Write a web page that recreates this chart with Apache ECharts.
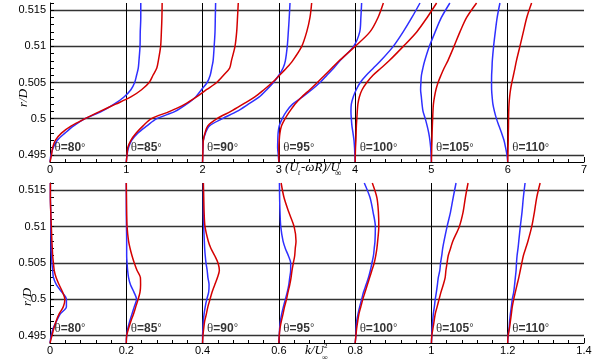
<!DOCTYPE html>
<html>
<head>
<meta charset="utf-8">
<script src="https://cdn.jsdelivr.net/npm/echarts@6/dist/echarts.min.js"></script>
<style>
  html, body { margin: 0; padding: 0; background: #fff; }
  #chart { width: 603px; height: 362px; }
</style>
</head>
<body>
<div id="chart"></div>
<script>
// r/D stations, shared by every profile
const rD = [0.494, 0.495, 0.496, 0.497, 0.498, 0.499, 0.5, 0.501, 0.502, 0.503, 0.504, 0.505, 0.506, 0.507, 0.508, 0.51, 0.512, 0.514, 0.516]
const angles = [80, 85, 90, 95, 100, 105, 110]

// (Ut - wR)/Uinf, each profile shifted by 1 per station
const u80Blue = [0, 0.013, 0.044, 0.096, 0.197, 0.31, 0.46, 0.677, 0.84, 0.97, 1.06, 1.11, 1.135, 1.157, 1.166, 1.18, 1.183, 1.19, 1.19]
const u80Red = [0, 0.02, 0.035, 0.07, 0.15, 0.28, 0.46, 0.655, 0.86, 1.06, 1.2, 1.3, 1.35, 1.4, 1.42, 1.45, 1.46, 1.467, 1.47]
const u85Blue = [0, 0.01, 0.03, 0.07, 0.15, 0.27, 0.4, 0.64, 0.79, 0.91, 0.985, 1.06, 1.1, 1.12, 1.138, 1.152, 1.163, 1.167, 1.171]
const u85Red = [0, 0.01, 0.02, 0.06, 0.13, 0.22, 0.33, 0.57, 0.77, 0.92, 1.05, 1.185, 1.275, 1.355, 1.378, 1.425, 1.447, 1.458, 1.468]
const u90Blue = [0, 0.002, 0.005, 0.01, 0.038, 0.09, 0.26, 0.45, 0.6, 0.743, 0.841, 0.929, 1.0, 1.055, 1.085, 1.11, 1.124, 1.136, 1.146]
const u90Red = [0, 0.003, 0.006, 0.01, 0.032, 0.068, 0.19, 0.37, 0.53, 0.685, 0.804, 0.914, 1.009, 1.1, 1.18, 1.3, 1.365, 1.408, 1.43]
const u95Blue = [0, -0.008, -0.016, -0.014, -0.01, 0.005, 0.044, 0.1, 0.18, 0.31, 0.43, 0.54, 0.63, 0.72, 0.8, 0.98, 1.06, 1.075, 1.085]
const u95Red = [0, 0, 0, 0.005, 0.014, 0.035, 0.082, 0.142, 0.21, 0.3, 0.405, 0.505, 0.6, 0.695, 0.79, 1.0, 1.194, 1.3, 1.37]
const u100Blue = [0, -0.004, -0.008, -0.015, -0.028, -0.042, -0.05, -0.055, -0.05, -0.025, 0.014, 0.067, 0.146, 0.24, 0.334, 0.5, 0.629, 0.744, 0.85]
const u100Red = [0, 0.002, 0.005, 0.01, 0.013, 0.016, 0.022, 0.028, 0.036, 0.055, 0.091, 0.153, 0.234, 0.34, 0.445, 0.631, 0.807, 0.944, 1.068]
const u105Blue = [0, -0.005, -0.01, -0.02, -0.035, -0.056, -0.081, -0.11, -0.123, -0.132, -0.142, -0.138, -0.131, -0.112, -0.088, -0.027, 0.049, 0.131, 0.242]
const u105Red = [0, 0.002, 0.004, 0.007, 0.009, 0.012, 0.016, 0.02, 0.026, 0.04, 0.059, 0.087, 0.125, 0.167, 0.215, 0.296, 0.374, 0.462, 0.592]
const u110Blue = [0, -0.01, -0.028, -0.049, -0.08, -0.115, -0.148, -0.174, -0.194, -0.204, -0.211, -0.212, -0.211, -0.206, -0.202, -0.185, -0.163, -0.138, -0.102]
const u110Red = [0, 0.003, 0.005, 0.007, 0.008, 0.01, 0.011, 0.013, 0.017, 0.025, 0.037, 0.054, 0.075, 0.095, 0.114, 0.16, 0.205, 0.25, 0.313]

// k/Uinf^2, each profile shifted by 0.2 per station
const k80Blue = [0, 0.003, 0.008, 0.017, 0.027, 0.043, 0.043, 0.031, 0.017, 0.009, 0.007, 0.005, 0.004, 0.003, 0.003, 0.002, 0.002, 0.001, 0.001]
const k80Red = [0, 0.005, 0.01, 0.016, 0.024, 0.035, 0.039, 0.033, 0.024, 0.016, 0.011, 0.009, 0.007, 0.006, 0.005, 0.0035, 0.002, 0.001, 0.001]
const k85Blue = [0, 0.001, 0.004, 0.009, 0.015, 0.021, 0.027, 0.02, 0.011, 0.006, 0.0035, 0.002, 0.001, 0.001, 0.001, 0.0005, 0, 0, 0]
const k85Red = [0, 0.001, 0.006, 0.012, 0.019, 0.025, 0.031, 0.036, 0.0375, 0.037, 0.028, 0.021, 0.015, 0.01, 0.006, 0.002, 0.001, 0.0005, 0]
const k90Blue = [0, 0, 0.001, 0.002, 0.004, 0.007, 0.011, 0.016, 0.017, 0.014, 0.012, 0.009, 0.007, 0.0055, 0.0046, 0.003, 0.002, 0.002, 0.002]
const k90Red = [0, 0.001, 0.003, 0.0055, 0.01, 0.014, 0.0195, 0.025, 0.032, 0.039, 0.044, 0.0405, 0.032, 0.022, 0.015, 0.0064, 0.004, 0.003, 0.002]
const k95Blue = [0, 0.001, 0.002, 0.004, 0.0075, 0.012, 0.017, 0.022, 0.026, 0.0285, 0.031, 0.031, 0.025, 0.017, 0.011, 0.005, 0.003, 0.002, 0.0015]
const k95Red = [0, 0.001, 0.003, 0.0065, 0.011, 0.015, 0.02, 0.024, 0.0285, 0.032, 0.0345, 0.038, 0.0415, 0.043, 0.045, 0.04, 0.026, 0.0135, 0.006]
const k100Blue = [0, 0.002, 0.0025, 0.004, 0.0076, 0.012, 0.017, 0.022, 0.0286, 0.035, 0.04, 0.044, 0.048, 0.05, 0.052, 0.053, 0.047, 0.039, 0.024]
const k100Red = [0, 0.002, 0.004, 0.0068, 0.01, 0.015, 0.02, 0.026, 0.032, 0.038, 0.044, 0.05, 0.054, 0.057, 0.059, 0.062, 0.061, 0.057, 0.045]
const k105Blue = [0, 0.001, 0.0016, 0.0033, 0.005, 0.0077, 0.01, 0.013, 0.0156, 0.018, 0.022, 0.024, 0.027, 0.0295, 0.033, 0.041, 0.05, 0.057, 0.0645]
const k105Red = [0, 0.001, 0.004, 0.007, 0.01, 0.015, 0.02, 0.025, 0.031, 0.036, 0.038, 0.041, 0.044, 0.05, 0.056, 0.073, 0.083, 0.089, 0.096]
const k110Blue = [0, 0.001, 0.0035, 0.005, 0.007, 0.0096, 0.012, 0.0157, 0.018, 0.02, 0.022, 0.023, 0.0245, 0.027, 0.029, 0.033, 0.0375, 0.041, 0.0455]
const k110Red = [0, 0.001, 0.0045, 0.007, 0.0096, 0.012, 0.0157, 0.02, 0.0245, 0.029, 0.033, 0.037, 0.041, 0.047, 0.053, 0.063, 0.07, 0.076, 0.085]

const uBlue = [u80Blue, u85Blue, u90Blue, u95Blue, u100Blue, u105Blue, u110Blue]
const uRed = [u80Red, u85Red, u90Red, u95Red, u100Red, u105Red, u110Red]
const kBlue = [k80Blue, k85Blue, k90Blue, k95Blue, k100Blue, k105Blue, k110Blue]
const kRed = [k80Red, k85Red, k90Red, k95Red, k100Red, k105Red, k110Red]

const BLUE = '#2f2fff'
const RED = '#d40000'
const SANS = '"Liberation Sans", Arial, sans-serif'
const SERIF = '"Liberation Serif", "Times New Roman", serif'

function rLabel (v) {
  const n = Math.round(v * 1000)
  return n % 5 === 0 ? String(n / 1000) : ''
}

// station lines come from the x split lines, without the two ends
function xAxisFor (gridIndex, max, interval) {
  return {
    type: 'value',
    gridIndex: gridIndex,
    min: 0,
    max: max,
    interval: interval,
    axisLine: { show: true, onZero: false, lineStyle: { color: '#000', width: 1 } },
    axisTick: { show: true, inside: true, length: 5, lineStyle: { color: '#000' } },
    minorTick: { show: true, splitNumber: 5, length: 3, lineStyle: { color: '#000' } },
    axisLabel: { color: '#000', fontSize: 11, fontFamily: SANS, margin: 2 },
    splitLine: { show: true, showMinLine: false, showMaxLine: false, lineStyle: { color: '#000', width: 1, type: 'solid' } }
  }
}

// ticks every 0.001, labels every 0.005
function yAxisFor (gridIndex) {
  return {
    type: 'value',
    gridIndex: gridIndex,
    min: 0.494,
    max: 0.516,
    interval: 0.001,
    axisLine: { show: true, onZero: false, lineStyle: { color: '#000', width: 1 } },
    axisTick: { show: true, inside: true, length: 4, lineStyle: { color: '#000' } },
    axisLabel: { color: '#000', fontSize: 11, fontFamily: SANS, margin: 4, formatter: rLabel },
    splitLine: { show: false }
  }
}

// second y axis on the same grid, only for the horizontal grid lines (nice 0.005 step)
function yGridLines (gridIndex) {
  return {
    type: 'value',
    gridIndex: gridIndex,
    min: 0.494,
    max: 0.516,
    splitNumber: 5,
    position: 'left',
    axisLine: { show: false },
    axisTick: { show: false },
    axisLabel: { show: false },
    splitLine: { show: true, showMinLine: false, showMaxLine: false, lineStyle: { color: '#333', width: 1.3, type: 'solid' } }
  }
}

function profileSeries (idx, shift, vals, color, name) {
  return vals.map((v, i) => ({
    type: 'line',
    name: name + angles[i],
    xAxisIndex: idx,
    yAxisIndex: idx,
    showSymbol: false,
    smooth: 0.3,
    z: 3,
    lineStyle: { color: color, width: 1.5 },
    data: rD.map((r, j) => [shift * i + v[j], r])
  }))
}

function angleLabels (idx, shift) {
  return {
    type: 'scatter',
    xAxisIndex: idx,
    yAxisIndex: idx,
    symbolSize: 1,
    z: 4,
    itemStyle: { color: 'rgba(0,0,0,0)' },
    data: angles.map((a, i) => ({ name: String(a), value: [shift * i, 0.496] })),
    label: {
      show: true,
      position: 'right',
      distance: 4,
      formatter: p => '{t|θ}{b|=' + p.name + '}{d|°}',
      rich: {
        t: { fontFamily: SERIF, fontSize: 13, color: '#000' },
        b: { fontFamily: SANS, fontSize: 12, fontWeight: 'bold', color: '#000' },
        d: { fontFamily: SANS, fontSize: 11, color: '#000' }
      }
    }
  }
}

const chart = echarts.init(document.getElementById('chart'), null, { renderer: 'canvas' })

const option = {
  animation: false,
  backgroundColor: '#fff',
  grid: [
    { left: 50, right: 19, top: 3, height: 159, outerBoundsMode: 'none' },
    { left: 50, right: 19, top: 183, height: 160, outerBoundsMode: 'none' }
  ],
  xAxis: [xAxisFor(0, 7, 1), xAxisFor(1, 1.4, 0.2)],
  yAxis: [yAxisFor(0), yAxisFor(1), yGridLines(0), yGridLines(1)],
  series: [
    ...profileSeries(0, 1, uBlue, BLUE, 'blue'),
    ...profileSeries(0, 1, uRed, RED, 'red'),
    ...profileSeries(1, 0.2, kBlue, BLUE, 'blue'),
    ...profileSeries(1, 0.2, kRed, RED, 'red'),
    angleLabels(0, 1),
    angleLabels(1, 0.2)
  ],
  graphic: [
    // y axis names
    { type: 'text', x: 24, y: 98, rotation: Math.PI / 2, style: { text: 'r/D', font: 'italic 13px ' + SERIF, fill: '#000', align: 'center', verticalAlign: 'middle' } },
    { type: 'text', x: 28, y: 297, rotation: Math.PI / 2, style: { text: 'r/D', font: 'italic 13px ' + SERIF, fill: '#000', align: 'center', verticalAlign: 'middle' } },
    // (Ut - wR)/Uinf
    { type: 'text', x: 285, y: 174, style: { text: '(U', font: 'italic 13px ' + SERIF, fill: '#000', verticalAlign: 'bottom' } },
    { type: 'text', x: 298, y: 177, style: { text: 't', font: 'italic 8px ' + SERIF, fill: '#000', verticalAlign: 'bottom' } },
    { type: 'text', x: 301, y: 174, style: { text: '-ωR)/U', font: 'italic 13px ' + SERIF, fill: '#000', verticalAlign: 'bottom' } },
    { type: 'text', x: 335, y: 178, style: { text: '∞', font: '9px ' + SERIF, fill: '#000', verticalAlign: 'bottom' } },
    // k/Uinf^2
    { type: 'text', x: 305, y: 357, style: { text: 'k/U', font: 'italic 13px ' + SERIF, fill: '#000', verticalAlign: 'bottom' } },
    { type: 'text', x: 324, y: 350, style: { text: '2', font: '7px ' + SERIF, fill: '#000', verticalAlign: 'bottom' } },
    { type: 'text', x: 322, y: 362, style: { text: '∞', font: '8px ' + SERIF, fill: '#000', verticalAlign: 'bottom' } }
  ]
}

chart.setOption(option)
</script>
</body>
</html>
